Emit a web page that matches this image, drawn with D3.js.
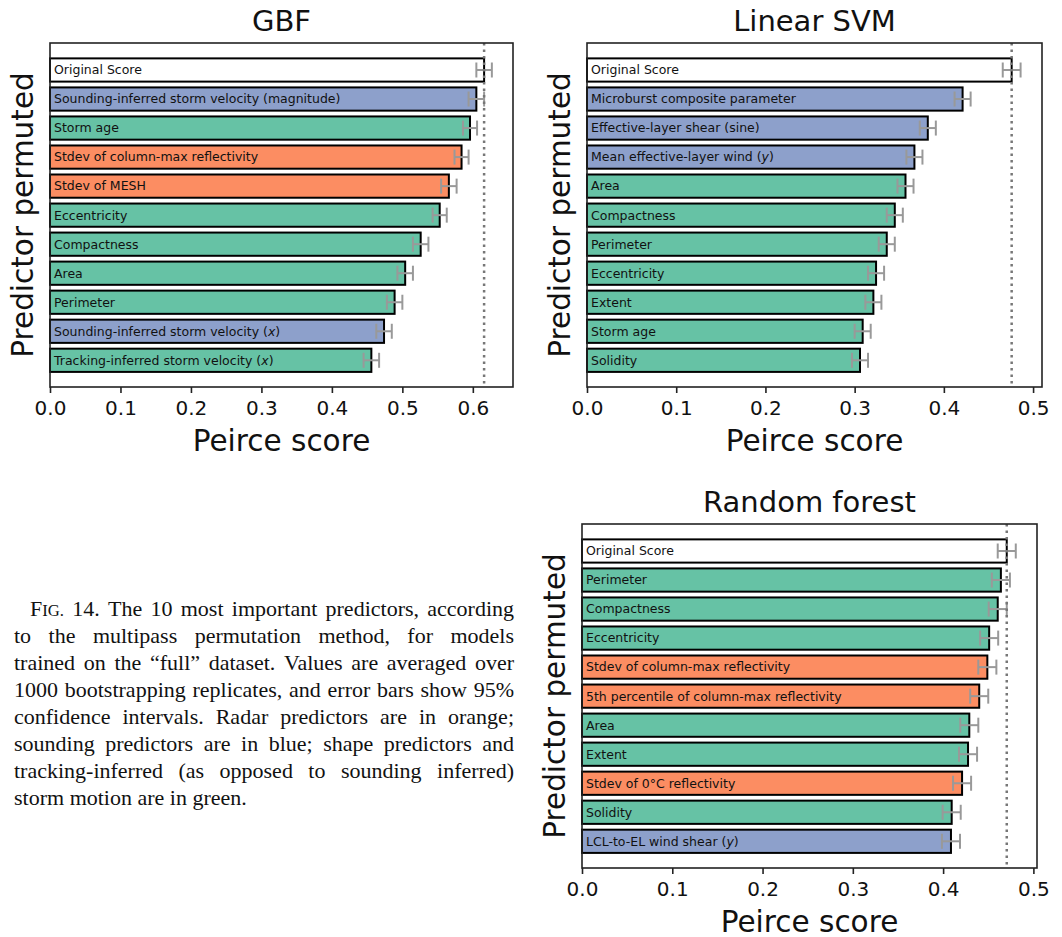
<!DOCTYPE html>
<html>
<head>
<meta charset="utf-8">
<script src="https://cdn.jsdelivr.net/npm/d3@7"></script>
<style>
  body { margin: 0; background: #fff; }
  svg { display: block; }
</style>
</head>
<body>
<svg width="1062" height="937"></svg>
<script>
// predictor names, top to bottom; *x* marks italic text
const gbfNames = [
  "Original Score",
  "Sounding-inferred storm velocity (magnitude)",
  "Storm age",
  "Stdev of column-max reflectivity",
  "Stdev of MESH",
  "Eccentricity",
  "Compactness",
  "Area",
  "Perimeter",
  "Sounding-inferred storm velocity (*x*)",
  "Tracking-inferred storm velocity (*x*)"
];
const gbfValues = [0.616, 0.605, 0.596, 0.584, 0.566, 0.553, 0.526, 0.504, 0.489, 0.474, 0.456];
const gbfErr = [0.011, 0.011, 0.010, 0.010, 0.011, 0.010, 0.011, 0.011, 0.011, 0.011, 0.011];
const gbfGroups = ["orig", "sounding", "shape", "radar", "radar", "shape", "shape", "shape", "shape", "sounding", "shape"];

const svmNames = [
  "Original Score",
  "Microburst composite parameter",
  "Effective-layer shear (sine)",
  "Mean effective-layer wind (*y*)",
  "Area",
  "Compactness",
  "Perimeter",
  "Eccentricity",
  "Extent",
  "Storm age",
  "Solidity"
];
const svmValues = [0.476, 0.421, 0.382, 0.367, 0.357, 0.345, 0.336, 0.324, 0.321, 0.309, 0.306];
const svmErr = [0.010, 0.009, 0.009, 0.009, 0.009, 0.009, 0.009, 0.009, 0.009, 0.009, 0.009];
const svmGroups = ["orig", "sounding", "sounding", "sounding", "shape", "shape", "shape", "shape", "shape", "shape", "shape"];

const rfNames = [
  "Original Score",
  "Perimeter",
  "Compactness",
  "Eccentricity",
  "Stdev of column-max reflectivity",
  "5th percentile of column-max reflectivity",
  "Area",
  "Extent",
  "Stdev of 0°C reflectivity",
  "Solidity",
  "LCL-to-EL wind shear (*y*)"
];
const rfValues = [0.4705, 0.464, 0.4605, 0.451, 0.449, 0.440, 0.429, 0.4276, 0.421, 0.4095, 0.4087];
const rfErr = [0.010, 0.010, 0.010, 0.010, 0.010, 0.010, 0.010, 0.010, 0.010, 0.010, 0.010];
const rfGroups = ["orig", "shape", "shape", "shape", "radar", "radar", "shape", "shape", "radar", "shape", "sounding"];

const gbfTicks = [0, 0.1, 0.2, 0.3, 0.4, 0.5, 0.6];
const svmTicks = [0, 0.1, 0.2, 0.3, 0.4, 0.5];
const rfTicks = [0, 0.1, 0.2, 0.3, 0.4, 0.5];

const captionLines = [
  "{FIG.} 14. The 10 most important predictors, according",
  "to the multipass permutation method, for models",
  "trained on the \u201cfull\u201d dataset. Values are averaged over",
  "1000 bootstrapping replicates, and error bars show 95%",
  "confidence intervals. Radar predictors are in orange;",
  "sounding predictors are in blue; shape predictors and",
  "tracking-inferred (as opposed to sounding inferred)",
  "storm motion are in green."
];

const colors = { orig: "#ffffff", sounding: "#8da0cb", shape: "#66c2a5", radar: "#fc8d62" };

const svg = d3.select("svg");
const sans = "DejaVu Sans, sans-serif";

const panels = [
  { title: "GBF", names: gbfNames, values: gbfValues, err: gbfErr, groups: gbfGroups, ticks: gbfTicks,
    xmax: 0.657, box: { left: 50, right: 513, top: 43, bottom: 387 } },
  { title: "Linear SVM", names: svmNames, values: svmValues, err: svmErr, groups: svmGroups, ticks: svmTicks,
    xmax: 0.51, box: { left: 587, right: 1042, top: 43, bottom: 387 } },
  { title: "Random forest", names: rfNames, values: rfValues, err: rfErr, groups: rfGroups, ticks: rfTicks,
    xmax: 0.504, box: { left: 582, right: 1037, top: 524, bottom: 868 } }
];

function addLabel(sel, str) {
  str.split("*").forEach((part, i) => {
    if (!part) return;
    const t = sel.append("tspan").text(part);
    if (i % 2 === 1) t.style("font-style", "italic");
  });
}

panels.forEach((p) => {
  const b = p.box;
  const data = p.names.map((n, i) => ({ name: n, value: p.values[i], err: p.err[i], group: p.groups[i], i }));

  const x = d3.scaleLinear().domain([0, p.xmax]).range([b.left, b.right]);
  const y = d3.scaleLinear().domain([-0.93, data.length - 0.08]).range([b.top, b.bottom]);
  const bh = y(0.8) - y(0);

  const g = svg.append("g");

  // bars
  g.selectAll(".bar")
    .data(data)
    .enter()
    .append("rect")
    .attr("x", x(0))
    .attr("y", (d) => y(d.i) - bh / 2)
    .attr("width", (d) => x(d.value) - x(0))
    .attr("height", bh)
    .attr("fill", (d) => colors[d.group])
    .attr("stroke", "#000")
    .attr("stroke-width", 2);

  // error bars
  const eb = g.selectAll(".err").data(data).enter().append("g").attr("stroke", "#999").attr("stroke-width", 2);
  eb.append("line")
    .attr("x1", (d) => x(d.value - d.err)).attr("x2", (d) => x(d.value + d.err))
    .attr("y1", (d) => y(d.i)).attr("y2", (d) => y(d.i));
  eb.append("line")
    .attr("x1", (d) => x(d.value - d.err)).attr("x2", (d) => x(d.value - d.err))
    .attr("y1", (d) => y(d.i) - 7.5).attr("y2", (d) => y(d.i) + 7.5);
  eb.append("line")
    .attr("x1", (d) => x(d.value + d.err)).attr("x2", (d) => x(d.value + d.err))
    .attr("y1", (d) => y(d.i) - 7.5).attr("y2", (d) => y(d.i) + 7.5);

  // original score reference line
  g.append("line")
    .attr("x1", x(p.values[0])).attr("x2", x(p.values[0]))
    .attr("y1", b.top).attr("y2", b.bottom)
    .attr("stroke", "#777").attr("stroke-width", 2.5)
    .attr("stroke-dasharray", "2.5,4");

  // bar labels
  g.selectAll(".lab")
    .data(data)
    .enter()
    .append("text")
    .attr("x", x(0) + 4)
    .attr("y", (d) => y(d.i))
    .attr("dy", "0.35em")
    .attr("font-family", sans)
    .attr("font-size", 12.5)
    .attr("fill", "#111")
    .each(function (d) { addLabel(d3.select(this), d.name); });

  // frame
  g.append("rect")
    .attr("x", b.left).attr("y", b.top)
    .attr("width", b.right - b.left).attr("height", b.bottom - b.top)
    .attr("fill", "none").attr("stroke", "#222").attr("stroke-width", 1.6);

  // x axis
  const ax = g.append("g")
    .attr("transform", `translate(0,${b.bottom})`)
    .call(d3.axisBottom(x).tickValues(p.ticks).tickFormat(d3.format(".1f")).tickSize(6).tickPadding(8));
  ax.select(".domain").remove();
  ax.selectAll("line").attr("stroke", "#222").attr("stroke-width", 1.6);
  ax.selectAll("text").attr("font-family", sans).attr("font-size", 20).attr("fill", "#111");

  const cx = (b.left + b.right) / 2;
  g.append("text")
    .attr("x", cx).attr("y", b.top - 12)
    .attr("text-anchor", "middle")
    .attr("font-family", sans).attr("font-size", 29).attr("fill", "#111")
    .text(p.title);

  g.append("text")
    .attr("x", cx).attr("y", b.bottom + 64)
    .attr("text-anchor", "middle")
    .attr("font-family", sans).attr("font-size", 29.5).attr("fill", "#111")
    .text("Peirce score");

  g.append("text")
    .attr("transform", `translate(${b.left - 17},${(b.top + b.bottom) / 2}) rotate(-90)`)
    .attr("text-anchor", "middle")
    .attr("font-family", sans).attr("font-size", 29.5).attr("fill", "#111")
    .text("Predictor permuted");
});

// caption, justified
const serif = "Liberation Serif, Times New Roman, serif";
const capSize = 22;
const capLeft = 14, capRight = 514, capIndent = 30, capTop = 616, capStep = 27;

function wordSpans(sel, word) {
  // {FIG.} is set in small caps
  const m = word.match(/^\{(.)(.*)\}$/);
  if (m) {
    sel.append("tspan").text(m[1]);
    sel.append("tspan").attr("font-size", capSize * 0.76).text(m[2].toUpperCase());
  } else {
    sel.text(word);
  }
}

const cap = svg.append("g").attr("font-family", serif).attr("font-size", capSize).attr("fill", "#111");
captionLines.forEach((line, li) => {
  const words = line.split(" ");
  const left = li === 0 ? capIndent : capLeft;
  const ty = capTop + li * capStep;
  const nodes = words.map((w) => {
    const t = cap.append("text").attr("y", ty);
    wordSpans(t, w);
    return t;
  });
  const widths = nodes.map((t) => t.node().getComputedTextLength());
  const total = d3.sum(widths);
  const last = li === captionLines.length - 1;
  const space = last ? capSize * 0.25 : (capRight - left - total) / (words.length - 1);
  let cur = left;
  nodes.forEach((t, i) => {
    t.attr("x", cur);
    cur += widths[i] + space;
  });
});
</script>
</body>
</html>
